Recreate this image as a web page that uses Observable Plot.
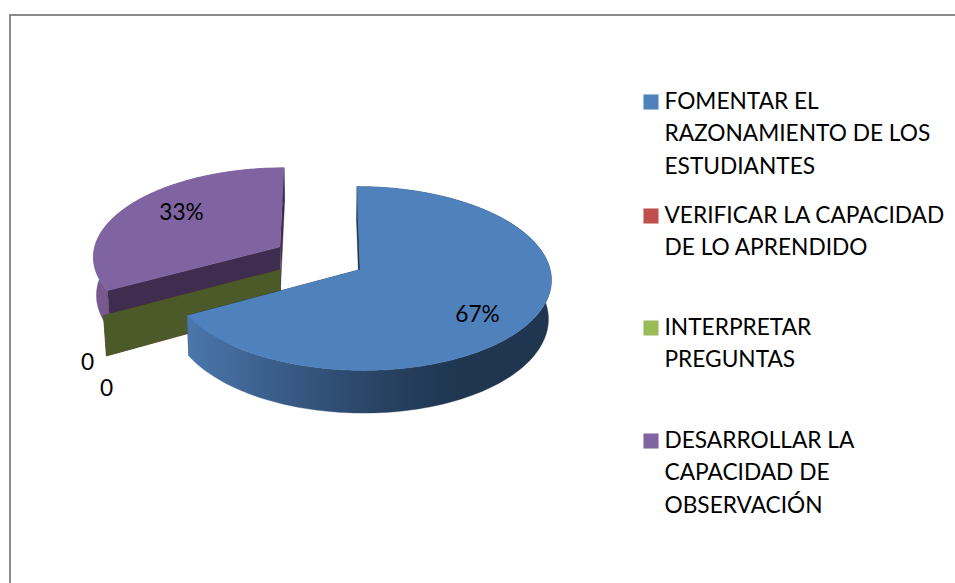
<!DOCTYPE html>
<html>
<head>
<meta charset="utf-8">
<script src="https://cdn.jsdelivr.net/npm/d3@7"></script>
<script src="https://cdn.jsdelivr.net/npm/@observablehq/plot@0.6"></script>
<style>
html,body{margin:0;padding:0;background:#fff;}
#frame{position:absolute;left:9px;top:14px;width:955px;height:600px;border:2px solid #8a8a8a;box-sizing:border-box;}
#chart{position:absolute;left:0;top:0;width:955px;height:583px;overflow:hidden;}
svg{display:block;}
</style>
</head>
<body>
<div id="frame"></div>
<div id="chart"></div>
<script>
const categories = ["FOMENTAR EL\nRAZONAMIENTO DE LOS\nESTUDIANTES","VERIFICAR LA CAPACIDAD\nDE LO APRENDIDO","INTERPRETAR\nPREGUNTAS","DESARROLLAR LA\nCAPACIDAD DE\nOBSERVACIÓN"];
const values = [67, 0, 0, 33];
const valueLabels = ["67%", "0", "0", "33%"];
const colors = ["#4f81bd", "#c0504d", "#9bbb59", "#8064a2"];
const wallColors = ["#1f3550", "#632423", "#4b5a28", "#3f2d50"];
const rimColors = ["url(#blueSide)", "#632423", "#4b5a28", "#77598f"];

// Layout of the 3-D projection (unit-radius pie seen in perspective)
const W = 955, H = 583, font = "Lato, Carlito, sans-serif", fs = 22.7;
const view = {cx: 325, cy: 269, fx: 190, fy: 91, k: 0.098, depth: 38.5, baseScale: 0.987};
const explode = [[0.182, 0], [-0.237, 0], [-0.237, 0], [-0.245, -0.255]];
const labelAt = [[477, 314], [87, 362], [106, 388], [181, 212]];
const legendTop = [100, 214, 326, 439], legendLine = 32.5;

const arcs = d3.pie().sort(null).value(d => d)(values);
const project = (wx, wz, bottom) => {
  const d = 1 - view.k * wz, s = bottom ? view.baseScale : 1;
  return {
    x: view.cx + s * view.fx * wx / d,
    y: view.cy + (view.fy * wz + (bottom ? view.depth : 0)) / d
  };
};
const rimPoint = (i, a, bottom) => project(explode[i][0] + Math.sin(a), explode[i][1] - Math.cos(a), bottom);
const apex = (i, bottom) => project(explode[i][0], explode[i][1], bottom);
const arcPts = (i, bottom) => {
  const {startAngle: a, endAngle: b} = arcs[i];
  const n = Math.max(2, Math.ceil((b - a) * 40));
  return d3.range(n + 1).map(j => rimPoint(i, a + (b - a) * j / n, bottom));
};
const face = (pts, fill) => Plot.line(pts, {x: "x", y: "y", fill, stroke: fill, strokeWidth: 0.4, curve: "linear"});
const topFace = i => face([apex(i, false), ...arcPts(i, false)], colors[i]);
const rimFace = i => face([...arcPts(i, false), ...arcPts(i, true).reverse()], rimColors[i]);
const wallFace = (i, a) => face([apex(i, false), rimPoint(i, a, false), rimPoint(i, a, true), apex(i, true)], wallColors[i]);

const gradientDefs = () => {
  const d = d3.create("svg:defs");
  const g = d.append("linearGradient").attr("id", "blueSide").attr("gradientUnits", "userSpaceOnUse")
    .attr("x1", 188).attr("x2", 460).attr("y1", 0).attr("y2", 0);
  [[0, "#4a76ab"], [0.45, "#34547c"], [0.75, "#26405f"], [1, "#1f3550"]].forEach(([o, c]) =>
    g.append("stop").attr("offset", o).attr("stop-color", c));
  return d.node();
};

const legendRows = categories.map((text, i) => ({text, y: legendTop[i], color: colors[i]}));
const dataLabels = valueLabels.map((text, i) => ({text, x: labelAt[i][0], y: labelAt[i][1]}));

const plotEl = Plot.plot({
  width: W, height: H, margin: 0,
  x: {domain: [0, W], range: [0, W], axis: null},
  y: {domain: [0, H], range: [0, H], axis: null},
  style: {background: "transparent", fontFamily: font},
  marks: [
    gradientDefs,
    // exploded purple slice and the two empty slices
    rimFace(3), wallFace(3, arcs[3].endAngle), wallFace(3, arcs[3].startAngle),
    wallFace(1, arcs[1].startAngle), wallFace(2, arcs[2].startAngle),
    topFace(3),
    // main blue slice
    wallFace(0, arcs[0].startAngle), wallFace(0, arcs[0].endAngle), rimFace(0), topFace(0),
    Plot.text(dataLabels, {x: "x", y: "y", text: "text", fontSize: fs, fill: "#000", fontFamily: font}),
    Plot.dot(legendRows, {x: () => 650.5, y: d => d.y + 1.5, symbol: "square", r: 8.5, fill: "color", stroke: "none"}),
    Plot.text(legendRows, {x: () => 664, y: "y", text: "text", textAnchor: "start", lineAnchor: "top", dy: -15, fontSize: fs, fill: "#000", fontFamily: font, lineHeight: legendLine / fs})
  ]
});
document.getElementById("chart").appendChild(plotEl);
</script>
</body>
</html>
